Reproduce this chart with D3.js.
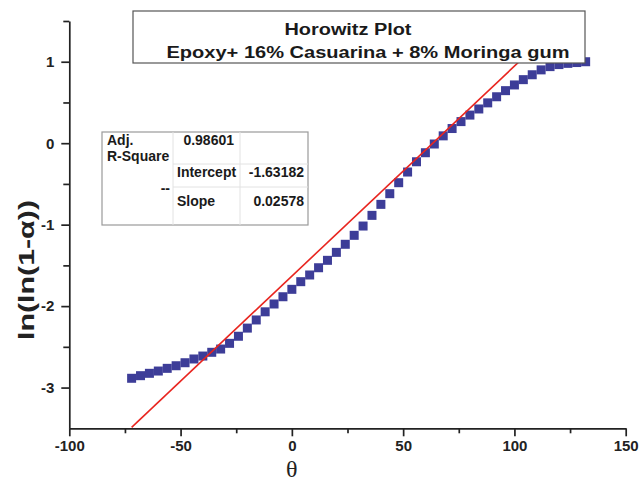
<!DOCTYPE html>
<html>
<head>
<meta charset="utf-8">
<script src="https://cdn.jsdelivr.net/npm/d3@7"></script>
<style>
  html, body { margin: 0; padding: 0; background: #fff; }
  svg { display: block; }
  .axis path, .axis line { stroke: #222; stroke-width: 1.7; }
  .axis text { font-family: "Liberation Sans", Arial, sans-serif; font-weight: bold; font-size: 15px; fill: #222; }
</style>
</head>
<body>
<svg id="chart" width="640" height="482"></svg>
<script>
// Horowitz plot data: theta (deg) against ln(ln(1-alpha))
const theta = [-72, -68, -64, -60, -56, -52, -48, -44, -40, -36, -32, -28, -24, -20, -16, -12,
  -8, -4, 0, 4, 8, 12, 16, 20, 24, 28, 32, 36, 40, 44, 48, 52, 56, 60, 64, 68, 72, 76, 80,
  84, 88, 92, 96, 100, 104, 108, 112, 116, 120, 124, 128, 132];
const lnln = [-2.886, -2.854, -2.825, -2.797, -2.764, -2.732, -2.695, -2.649, -2.613, -2.567,
  -2.527, -2.457, -2.37, -2.27, -2.17, -2.07, -1.974, -1.885, -1.794, -1.70, -1.618, -1.529,
  -1.438, -1.34, -1.241, -1.131, -1.017, -0.886, -0.751, -0.62, -0.485, -0.354, -0.228, -0.117,
  -0.01, 0.09, 0.18, 0.265, 0.345, 0.42, 0.495, 0.57, 0.645, 0.715, 0.78, 0.84, 0.90, 0.94,
  0.965, 0.98, 0.99, 1.00];

// Linear fit statistics
const adjRSquare = "0.98601";
const fitIntercept = -1.63182;
const fitSlope = 0.02578;

const xTicks = [-100, -50, 0, 50, 100, 150];
const xMinorTicks = [-75, -25, 25, 75, 125];
const yTicks = [-3, -2, -1, 0, 1];
const yMinorTicks = [-2.5, -1.5, -0.5, 0.5, 1.5];

const titleLines = ["Horowitz Plot", "Epoxy+ 16% Casuarina + 8% Moringa gum"];

const svg = d3.select("#chart");
const x = d3.scaleLinear().domain([-100, 150]).range([69.3, 625.7]);
const y = d3.scaleLinear().domain([-3.5, 1.5]).range([428.3, 21]);

svg.append("defs").append("clipPath").attr("id", "plotArea")
  .append("rect")
  .attr("x", x(-100)).attr("y", y(1.5))
  .attr("width", x(150) - x(-100)).attr("height", y(-3.5) - y(1.5));

// Data squares
const size = 9;
svg.append("g").selectAll("rect")
  .data(theta.map((t, i) => [t, lnln[i]]))
  .join("rect")
  .attr("x", d => x(d[0]) - size / 2)
  .attr("y", d => y(d[1]) - size / 2)
  .attr("width", size).attr("height", size)
  .attr("fill", "#3d3d98");

// Fitted line
const fitX = [d3.min(theta), d3.max(theta)];
svg.append("path")
  .attr("clip-path", "url(#plotArea)")
  .attr("d", d3.line().x(d => x(d)).y(d => y(fitIntercept + fitSlope * d))(fitX))
  .attr("fill", "none")
  .attr("stroke", "#e8251f")
  .attr("stroke-width", 1.6);

// Axes
const xAxis = svg.append("g").attr("class", "axis").attr("transform", `translate(0,${y(-3.5)})`);
xAxis.call(d3.axisBottom(x).tickValues(xTicks).tickSize(8).tickSizeOuter(0).tickPadding(4).tickFormat(d3.format("d")));
xAxis.append("g").call(d3.axisBottom(x).tickValues(xMinorTicks).tickSize(5).tickFormat(""))
  .select(".domain").remove();

const yAxis = svg.append("g").attr("class", "axis").attr("transform", `translate(${x(-100)},0)`);
yAxis.call(d3.axisLeft(y).tickValues(yTicks).tickSize(8).tickSizeOuter(0).tickPadding(7).tickFormat(d3.format("d")));
yAxis.append("g").call(d3.axisLeft(y).tickValues(yMinorTicks).tickSize(6).tickFormat(""))
  .select(".domain").remove();
svg.selectAll(".axis text").text(function () { return this.textContent.replace("\u2212", "-"); });

// Axis titles
svg.append("text")
  .attr("transform", `translate(34,270) rotate(-90)`)
  .attr("text-anchor", "middle")
  .attr("textLength", 140).attr("lengthAdjust", "spacingAndGlyphs")
  .style("font-family", "'Liberation Sans', Arial, sans-serif")
  .style("font-weight", "bold").style("font-size", "22px").attr("fill", "#222")
  .text("ln(ln(1-\u03b1))");

svg.append("text")
  .attr("x", x(0)).attr("y", 476.5)
  .attr("text-anchor", "middle")
  .style("font-family", "'Liberation Serif', 'Times New Roman', serif")
  .style("font-size", "24px").attr("fill", "#222")
  .text("\u03b8");

// Title box
const title = svg.append("g");
title.append("rect")
  .attr("x", 133).attr("y", 11).attr("width", 452).attr("height", 52)
  .attr("fill", "#fff").attr("stroke", "#555").attr("stroke-width", 1.2);
title.append("text")
  .attr("x", 348).attr("y", 35).attr("text-anchor", "middle")
  .attr("textLength", 127).attr("lengthAdjust", "spacingAndGlyphs")
  .style("font-family", "'Liberation Sans', Arial, sans-serif")
  .style("font-weight", "bold").style("font-size", "16px").attr("fill", "#1a1a1a")
  .text(titleLines[0]);
title.append("text")
  .attr("x", 368).attr("y", 58).attr("text-anchor", "middle")
  .attr("textLength", 403).attr("lengthAdjust", "spacingAndGlyphs")
  .style("font-family", "'Liberation Sans', Arial, sans-serif")
  .style("font-weight", "bold").style("font-size", "16px").attr("fill", "#1a1a1a")
  .text(titleLines[1]);

// Fit statistics table
const tbl = svg.append("g");
const tx0 = 102, ty0 = 132, tx1 = 308, ty1 = 225, c1 = 173, c2 = 240, r1 = 164, r2 = 187;
tbl.append("rect").attr("x", tx0).attr("y", ty0).attr("width", tx1 - tx0).attr("height", ty1 - ty0)
  .attr("fill", "#fff").attr("stroke", "#9a9a9a").attr("stroke-width", 1.2);
[[c1, ty0, c1, ty1], [c2, ty0, c2, ty1], [c1, r1, tx1, r1], [c1, r2, tx1, r2]].forEach(l => {
  tbl.append("line").attr("x1", l[0]).attr("y1", l[1]).attr("x2", l[2]).attr("y2", l[3])
    .attr("stroke", "#e2e2e2").attr("stroke-width", 1);
});
const cells = [
  { t: "Adj.", x: 107, y: 145, a: "start" },
  { t: "R-Square", x: 107, y: 161, a: "start" },
  { t: adjRSquare, x: 234, y: 145, a: "end" },
  { t: "--", x: 170, y: 193, a: "end" },
  { t: "Intercept", x: 177, y: 177, a: "start" },
  { t: fitIntercept.toFixed(5), x: 304, y: 177, a: "end" },
  { t: "Slope", x: 177, y: 206, a: "start" },
  { t: fitSlope.toFixed(5), x: 304, y: 206, a: "end" }
];
tbl.selectAll("text.cell").data(cells).join("text")
  .attr("class", "cell")
  .attr("x", d => d.x).attr("y", d => d.y).attr("text-anchor", d => d.a)
  .style("font-family", "'Liberation Sans', Arial, sans-serif")
  .style("font-weight", "bold").style("font-size", "14px").attr("fill", "#1a1a1a")
  .text(d => d.t);
</script>
</body>
</html>
